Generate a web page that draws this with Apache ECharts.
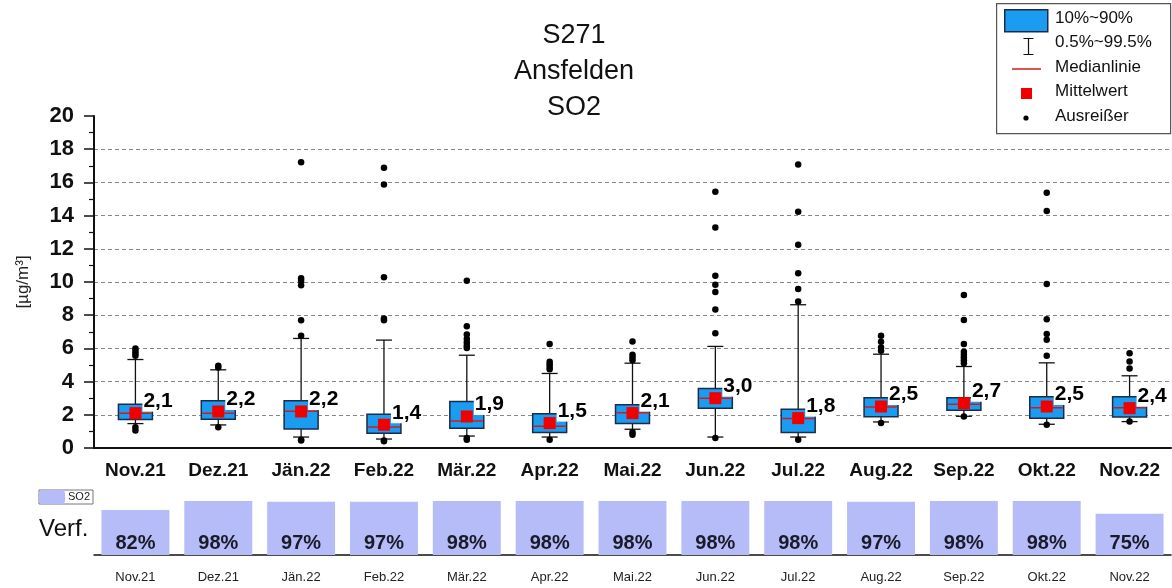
<!DOCTYPE html>
<html>
<head>
<meta charset="utf-8">
<script src="https://cdn.jsdelivr.net/npm/echarts@6/dist/echarts.min.js"></script>
<style>
  html, body { margin: 0; padding: 0; background: #fff; }
  #chart { width: 1172px; height: 588px; }
</style>
</head>
<body>
<div id="chart"></div>
<script>
// months shown on both axes
const months = ['Nov.21', 'Dez.21', 'Jän.22', 'Feb.22', 'Mär.22', 'Apr.22', 'Mai.22',
  'Jun.22', 'Jul.22', 'Aug.22', 'Sep.22', 'Okt.22', 'Nov.22'];

// percentiles (µg/m³)
const p005 = [1.47, 1.39, 0.66, 0.54, 0.72, 0.66, 1.13, 0.66, 0.66, 1.57, 1.91, 1.43, 1.59];
const p10 = [1.71, 1.73, 1.14, 0.89, 1.19, 0.93, 1.47, 2.39, 0.93, 1.89, 2.27, 1.79, 1.87];
const median = [2.09, 2.09, 2.21, 1.27, 1.63, 1.31, 2.13, 3.0, 1.77, 2.47, 2.64, 2.43, 2.43];
const p90 = [2.64, 2.84, 2.84, 2.03, 2.8, 2.07, 2.6, 3.58, 2.33, 3.02, 3.02, 3.08, 3.08];
const p995 = [5.33, 4.71, 6.6, 6.5, 5.59, 4.49, 5.11, 6.12, 8.63, 5.65, 4.91, 5.13, 4.35];
const means = [2.1, 2.2, 2.2, 1.4, 1.9, 1.5, 2.1, 3.0, 1.8, 2.5, 2.7, 2.5, 2.4];

// single outlier values per month
const outliers = [
  [6.0, 5.85, 5.7, 5.55, 1.25, 1.05],
  [4.95, 4.85, 1.25],
  [17.22, 10.22, 10.08, 9.8, 7.7, 6.76, 0.5, 0.45],
  [16.88, 15.88, 10.28, 7.8, 7.7, 0.45, 0.4],
  [10.08, 7.34, 6.84, 6.56, 6.36, 6.16, 6.02, 0.6, 0.5],
  [6.26, 5.19, 5.05, 4.89, 4.75, 0.5],
  [6.42, 5.61, 5.45, 5.29, 0.95, 0.8],
  [15.43, 13.28, 10.38, 9.84, 9.4, 8.35, 6.92, 0.6],
  [17.08, 14.23, 12.25, 10.52, 9.58, 8.83, 0.5],
  [6.76, 6.4, 6.06, 5.86, 1.5],
  [9.22, 7.71, 6.26, 5.8, 5.61, 5.45, 5.29, 5.11, 1.9],
  [15.37, 14.27, 9.88, 7.75, 6.86, 6.52, 5.55, 1.4],
  [5.71, 5.21, 4.79, 1.6]
];

// data availability (%)
const availability = [82, 98, 97, 97, 98, 98, 98, 98, 98, 97, 98, 98, 75];

const yTicks = { min: 0, max: 20, interval: 2 };

const FONT = 'Liberation Sans';
const BOX_FILL = '#1a9cf0';
const BOX_EDGE = '#1c2b4a';
const RED = '#f00000';

const chart = echarts.init(document.getElementById('chart'));

const boxData = months.map((m, i) => [i, p005[i], p10[i], median[i], p90[i], p995[i]]);
const meanData = means.map((v, i) => [i, v]);
const outlierData = outliers.flatMap((vals, i) => vals.map(v => [i, v]));

function renderBox(params, api) {
  const i = api.value(0);
  const lo = api.coord([i, api.value(1)]);
  const q1 = api.coord([i, api.value(2)]);
  const med = api.coord([i, api.value(3)]);
  const q3 = api.coord([i, api.value(4)]);
  const hi = api.coord([i, api.value(5)]);
  const bw = api.size([1, 0])[0] * 0.41;
  const cap = 16;
  const x = lo[0];
  const lineStyle = { stroke: '#111', lineWidth: 1.3 };
  return {
    type: 'group',
    children: [
      { type: 'line', shape: { x1: x, y1: hi[1], x2: x, y2: q3[1] }, style: lineStyle },
      { type: 'line', shape: { x1: x, y1: q1[1], x2: x, y2: lo[1] }, style: lineStyle },
      { type: 'line', shape: { x1: x - cap / 2, y1: hi[1], x2: x + cap / 2, y2: hi[1] }, style: lineStyle },
      { type: 'line', shape: { x1: x - cap / 2, y1: lo[1], x2: x + cap / 2, y2: lo[1] }, style: lineStyle },
      {
        type: 'rect',
        shape: { x: x - bw / 2, y: q3[1], width: bw, height: q1[1] - q3[1] },
        style: { fill: BOX_FILL, stroke: BOX_EDGE, lineWidth: 1.5 }
      },
      {
        type: 'line',
        shape: { x1: x - bw / 2 + 1, y1: med[1], x2: x + bw / 2 - 1, y2: med[1] },
        style: { stroke: '#d81818', lineWidth: 1.5 }
      }
    ]
  };
}

// legend on the top right, drawn by hand since symbols differ in size
const legendX = 996, legendTop = 3;
const legendText = (y, text) => ({
  type: 'text', left: 1055, top: y - 10,
  style: { text: text, font: '17px ' + FONT, fill: '#111' }
});
const legendGraphic = [
  {
    type: 'rect', left: legendX, top: legendTop,
    shape: { width: 174, height: 130 },
    style: { fill: '#fff', stroke: '#555', lineWidth: 1.2 }
  },
  { type: 'rect', left: 1004, top: 9, shape: { width: 43, height: 22 },
    style: { fill: BOX_FILL, stroke: BOX_EDGE, lineWidth: 1.5 } },
  legendText(20, '10%~90%'),
  { type: 'polyline', left: 1021, top: 36,
    shape: { points: [[0, 0], [10, 0], [5, 0], [5, 16], [0, 16], [10, 16]] },
    style: { stroke: '#111', lineWidth: 1.2, fill: null } },
  legendText(44, '0.5%~99.5%'),
  { type: 'line', shape: { x1: 1012, y1: 69, x2: 1041, y2: 69 },
    style: { stroke: '#d81818', lineWidth: 1.5 } },
  legendText(69, 'Medianlinie'),
  { type: 'rect', left: 1021, top: 88, shape: { width: 11, height: 11 }, style: { fill: RED } },
  legendText(93, 'Mittelwert'),
  { type: 'circle', shape: { cx: 1026, cy: 118, r: 2.6 }, style: { fill: '#000' } },
  legendText(118, 'Ausreißer'),
  {
    type: 'text', left: 39, top: 517,
    style: { text: 'Verf.', font: '24px ' + FONT, fill: '#111' }
  }
];

const option = {
  backgroundColor: '#fff',
  animation: false,
  textStyle: { fontFamily: FONT },
  title: {
    text: 'S271\nAnsfelden\nSO2',
    left: 569,
    textAlign: 'center',
    top: 13,
    textStyle: { fontFamily: FONT, fontSize: 27, fontWeight: 'normal', lineHeight: 36, color: '#111' }
  },
  legend: {
    data: ['SO2'],
    left: 39,
    top: 490,
    orient: 'horizontal',
    itemWidth: 26,
    itemHeight: 14,
    itemGap: 0,
    padding: [0, 3, 0, 0],
    borderColor: '#777',
    borderWidth: 1,
    textStyle: { fontFamily: FONT, fontSize: 11, color: '#222', padding: [0, 0, 0, -2] }
  },
  grid: [
    { left: 94, right: 1, top: 116, bottom: 140 },
    { left: 94, right: 1, top: 500, bottom: 33 }
  ],
  xAxis: [
    {
      type: 'category', gridIndex: 0, data: months,
      axisLine: { lineStyle: { color: '#111', width: 2 } },
      axisTick: { alignWithLabel: true, length: 11, lineStyle: { color: '#111', width: 1.5 } },
      axisLabel: { fontFamily: FONT, fontSize: 19, fontWeight: 'bold', color: '#111', margin: 13 },
      splitLine: { show: false }
    },
    {
      type: 'category', gridIndex: 1, data: months,
      axisLine: { lineStyle: { color: '#111', width: 1.5 } },
      axisTick: { alignWithLabel: true, length: 8, lineStyle: { color: '#111', width: 1.5 } },
      axisLabel: { fontFamily: FONT, fontSize: 13, color: '#222', margin: 16 }
    },
    {
      type: 'category', gridIndex: 1, data: months,
      axisLine: { show: false },
      axisTick: { length: 4, lineStyle: { color: '#111', width: 1.2 } },
      axisLabel: { show: false }
    }
  ],
  yAxis: [
    {
      type: 'value', gridIndex: 0,
      min: yTicks.min, max: yTicks.max, interval: yTicks.interval,
      name: '[µg/m³]',
      nameLocation: 'middle',
      nameGap: 62,
      nameTextStyle: { fontFamily: FONT, fontSize: 17, color: '#222' },
      axisLine: { show: true, lineStyle: { color: '#111', width: 2 } },
      axisTick: { show: true, length: 10, lineStyle: { color: '#111', width: 1.5 } },
      minorTick: { show: true, splitNumber: 2, length: 5, lineStyle: { color: '#111', width: 1.2 } },
      axisLabel: { fontFamily: FONT, fontSize: 22, fontWeight: 'bold', color: '#111', margin: 20 },
      splitLine: {
        show: true, showMaxLine: false,
        lineStyle: { color: '#888', type: [4, 3], width: 1 }
      }
    },
    {
      type: 'value', gridIndex: 1, min: 0, max: 100, show: false
    }
  ],
  series: [
    {
      name: 'Perzentile',
      type: 'custom',
      xAxisIndex: 0, yAxisIndex: 0,
      renderItem: renderBox,
      encode: { x: 0, y: [1, 2, 3, 4, 5] },
      data: boxData,
      z: 2
    },
    {
      name: 'Ausreißer',
      type: 'scatter',
      xAxisIndex: 0, yAxisIndex: 0,
      symbol: 'circle',
      symbolSize: 6.5,
      itemStyle: { color: '#000', opacity: 1 },
      data: outlierData,
      z: 3
    },
    {
      name: 'Mittelwert',
      type: 'scatter',
      xAxisIndex: 0, yAxisIndex: 0,
      symbol: 'rect',
      symbolSize: 12,
      itemStyle: { color: RED, opacity: 1 },
      label: {
        show: true,
        position: 'right',
        distance: 1,
        offset: [0, -12],
        formatter: p => p.value[1].toFixed(1).replace('.', ','),
        fontFamily: FONT,
        fontSize: 21,
        fontWeight: 'bold',
        color: '#000',
        opacity: 1,
        backgroundColor: '#fff',
        padding: [0, 1, 0, 1]
      },
      data: meanData,
      z: 4
    },
    {
      name: 'SO2',
      type: 'bar',
      xAxisIndex: 1, yAxisIndex: 1,
      barWidth: '82%',
      itemStyle: { color: '#b6bcf7' },
      label: {
        show: true,
        position: 'insideBottom',
        distance: 2,
        formatter: p => p.value + '%',
        fontFamily: FONT,
        fontSize: 20,
        fontWeight: 'bold',
        color: '#1a1a2a'
      },
      data: availability
    }
  ],
  graphic: legendGraphic
};

chart.setOption(option);
</script>
</body>
</html>
